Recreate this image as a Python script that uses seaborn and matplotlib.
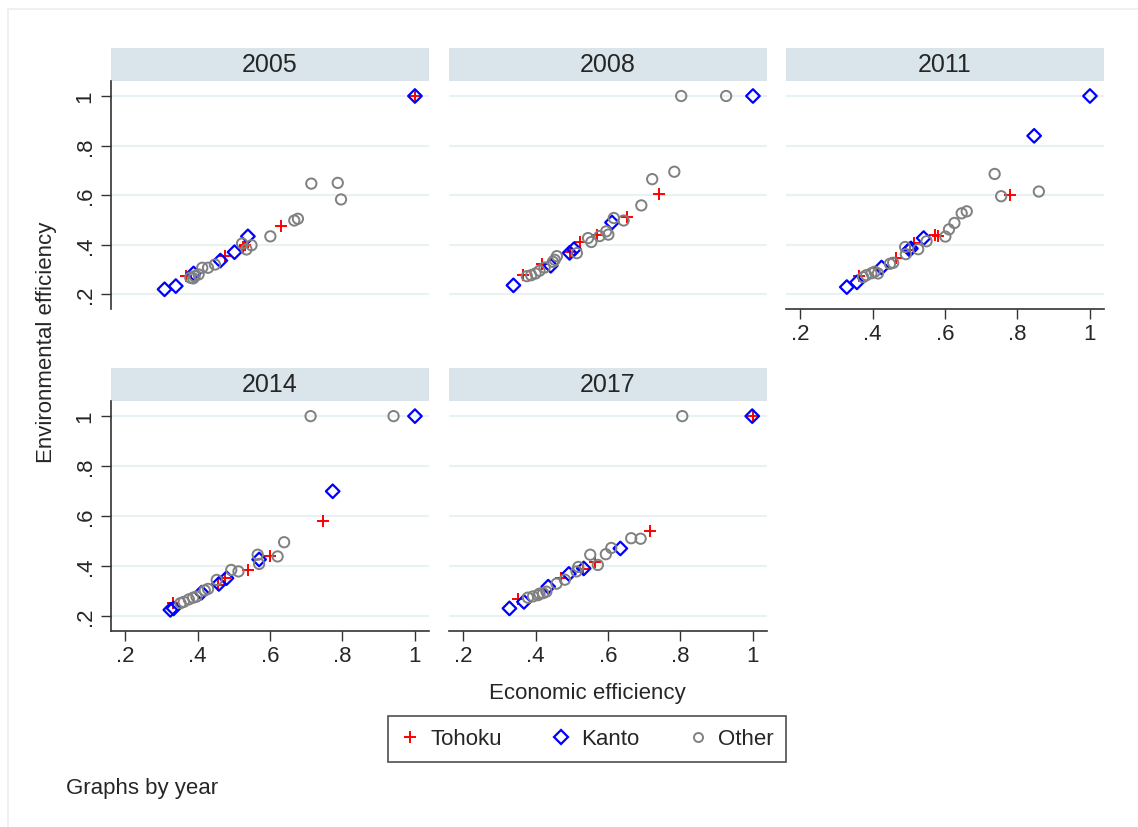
import numpy as np
import pandas as pd
import matplotlib
matplotlib.use("Agg")
import matplotlib.pyplot as plt
from matplotlib.lines import Line2D
from matplotlib.patches import Rectangle
import seaborn as sns

# ---------------- data ----------------
years = [2005, 2008, 2011, 2014, 2017]
groups = ["Tohoku", "Kanto", "Other"]
tick_vals = [0.2, 0.4, 0.6, 0.8, 1.0]
tick_labels = [".2", ".4", ".6", ".8", "1"]

tohoku_econ_2005 = [0.368, 0.475, 0.525, 0.531, 0.631, 1.0]
tohoku_env_2005 = [0.274, 0.354, 0.390, 0.397, 0.476, 1.0]
kanto_econ_2005 = [0.309, 0.340, 0.389, 0.463, 0.502, 0.539, 1.0]
kanto_env_2005 = [0.219, 0.232, 0.283, 0.335, 0.369, 0.433, 1.0]
other_econ_2005 = [0.380, 0.388, 0.392, 0.403, 0.413, 0.429, 0.448, 0.523, 0.535,
                   0.549, 0.601, 0.667, 0.677, 0.714, 0.787, 0.796]
other_env_2005 = [0.266, 0.263, 0.272, 0.279, 0.306, 0.306, 0.319, 0.404, 0.380,
                  0.397, 0.433, 0.497, 0.504, 0.646, 0.649, 0.582]

tohoku_econ_2008 = [0.366, 0.418, 0.496, 0.522, 0.571, 0.652, 0.741]
tohoku_env_2008 = [0.276, 0.321, 0.370, 0.410, 0.440, 0.512, 0.605]
kanto_econ_2008 = [0.339, 0.442, 0.494, 0.506, 0.611, 1.0]
kanto_env_2008 = [0.235, 0.314, 0.366, 0.381, 0.489, 1.0]
other_econ_2008 = [0.376, 0.388, 0.400, 0.411, 0.425, 0.448, 0.453, 0.459, 0.514, 0.545,
                   0.554, 0.577, 0.595, 0.601, 0.616, 0.643, 0.692, 0.722, 0.783, 0.802, 0.926]
other_env_2008 = [0.272, 0.276, 0.283, 0.294, 0.307, 0.330, 0.338, 0.353, 0.365, 0.426,
                  0.410, 0.434, 0.453, 0.440, 0.507, 0.497, 0.558, 0.664, 0.694, 1.0, 1.0]

tohoku_econ_2011 = [0.364, 0.464, 0.503, 0.514, 0.572, 0.581, 0.778]
tohoku_env_2011 = [0.274, 0.347, 0.377, 0.408, 0.437, 0.435, 0.598]
kanto_econ_2011 = [0.329, 0.357, 0.425, 0.502, 0.506, 0.541, 0.846, 1.0]
kanto_env_2011 = [0.228, 0.247, 0.307, 0.380, 0.384, 0.426, 0.839, 1.0]
other_econ_2011 = [0.374, 0.383, 0.397, 0.406, 0.415, 0.448, 0.457, 0.490, 0.492, 0.526,
                   0.549, 0.601, 0.611, 0.626, 0.646, 0.660, 0.737, 0.755, 0.859]
other_env_2011 = [0.268, 0.276, 0.284, 0.290, 0.283, 0.322, 0.326, 0.390, 0.361, 0.381,
                  0.413, 0.432, 0.461, 0.487, 0.526, 0.534, 0.685, 0.595, 0.614]

tohoku_econ_2014 = [0.332, 0.457, 0.477, 0.540, 0.599, 0.745]
tohoku_env_2014 = [0.250, 0.324, 0.351, 0.382, 0.441, 0.581]
kanto_econ_2014 = [0.325, 0.334, 0.411, 0.459, 0.480, 0.570, 0.773, 1.0]
kanto_env_2014 = [0.224, 0.230, 0.293, 0.328, 0.351, 0.426, 0.699, 1.0]
other_econ_2014 = [0.353, 0.362, 0.376, 0.388, 0.397, 0.420, 0.429, 0.453, 0.493, 0.513,
                   0.566, 0.570, 0.621, 0.639, 0.712, 0.941]
other_env_2014 = [0.251, 0.256, 0.266, 0.273, 0.277, 0.302, 0.308, 0.344, 0.384, 0.378,
                  0.445, 0.408, 0.438, 0.495, 1.0, 1.0]

tohoku_econ_2017 = [0.351, 0.470, 0.532, 0.564, 0.715, 1.0]
tohoku_env_2017 = [0.269, 0.351, 0.388, 0.414, 0.539, 1.0]
kanto_econ_2017 = [0.328, 0.368, 0.435, 0.492, 0.533, 0.634, 0.998]
kanto_env_2017 = [0.230, 0.256, 0.317, 0.368, 0.390, 0.470, 1.0]
other_econ_2017 = [0.379, 0.393, 0.407, 0.411, 0.421, 0.430, 0.458, 0.481, 0.513, 0.518,
                   0.551, 0.572, 0.594, 0.609, 0.664, 0.690, 0.805]
other_env_2017 = [0.273, 0.278, 0.283, 0.289, 0.291, 0.297, 0.329, 0.345, 0.378, 0.396,
                  0.445, 0.404, 0.447, 0.472, 0.511, 0.509, 1.0]

# ---------------- build long table ----------------
series = {
    (2005, "Tohoku"): (tohoku_econ_2005, tohoku_env_2005),
    (2005, "Kanto"): (kanto_econ_2005, kanto_env_2005),
    (2005, "Other"): (other_econ_2005, other_env_2005),
    (2008, "Tohoku"): (tohoku_econ_2008, tohoku_env_2008),
    (2008, "Kanto"): (kanto_econ_2008, kanto_env_2008),
    (2008, "Other"): (other_econ_2008, other_env_2008),
    (2011, "Tohoku"): (tohoku_econ_2011, tohoku_env_2011),
    (2011, "Kanto"): (kanto_econ_2011, kanto_env_2011),
    (2011, "Other"): (other_econ_2011, other_env_2011),
    (2014, "Tohoku"): (tohoku_econ_2014, tohoku_env_2014),
    (2014, "Kanto"): (kanto_econ_2014, kanto_env_2014),
    (2014, "Other"): (other_econ_2014, other_env_2014),
    (2017, "Tohoku"): (tohoku_econ_2017, tohoku_env_2017),
    (2017, "Kanto"): (kanto_econ_2017, kanto_env_2017),
    (2017, "Other"): (other_econ_2017, other_env_2017),
}
rows = []
for (yr, g), (xs, ys) in series.items():
    for xv, yv in zip(xs, ys):
        rows.append({"year": yr, "region": g, "econ": xv, "env": yv})
df = pd.DataFrame(rows)

# ---------------- style ----------------
sns.set_style("white")
plt.rcParams["font.family"] = ["Liberation Sans", "DejaVu Sans"]

W, H = 1138, 828
fig = plt.figure(figsize=(W / 100, H / 100), dpi=100)
fig.patch.set_facecolor("white")

# outer faint border lines (top and left)
fig.add_artist(Line2D([8 / W, 1.0], [1 - 10 / H, 1 - 10 / H], color="#eeeeee", lw=1.2))
fig.add_artist(Line2D([8 / W, 8 / W], [0, 1 - 10 / H], color="#eeeeee", lw=1.2))

col_left = [111, 449, 786]
ax_w = 318
rows_px = [(82, 310), (402, 632)]
strip_h = 33
strip_color = "#d9e5eb"
grid_color = "#e8f1f3"

styles = {
    "Tohoku": dict(marker="+", color="#ff0000", s=70, linewidth=1.4),
    "Kanto": dict(marker="D", facecolor="none", edgecolor="#0000ff", s=48, linewidth=1.6),
    "Other": dict(marker="o", facecolor="none", edgecolor="#808080", s=55, linewidth=1.4),
}

xlim = (0.2 - 14 / 361, 1.0 + 14 / 361)
ylim = (0.2 - 15 / 247.5, 1.0 + 15 / 247.5)

tick_fs = 16
for i, yr in enumerate(years):
    r, c = divmod(i, 3)
    top, bot = rows_px[r]
    left = col_left[c]
    ax = fig.add_axes([left / W, 1 - bot / H, ax_w / W, (bot - top) / H])
    ax.set_xlim(*xlim)
    ax.set_ylim(*ylim)
    for tv in tick_vals:
        ax.axhline(tv, color=grid_color, lw=1.5, zorder=0)
    sub = df[df["year"] == yr]
    for g in groups:
        d = sub[sub["region"] == g]
        sns.scatterplot(data=d, x="econ", y="env", ax=ax, legend=False, zorder=3, **styles[g])
    ax.set_xlabel("")
    ax.set_ylabel("")
    for sp in ax.spines.values():
        sp.set_visible(False)
    show_y = (c == 0)
    show_x = (r == 1) or (yr == 2011)
    ax.set_yticks(tick_vals)
    ax.set_xticks(tick_vals)
    if show_y:
        ax.spines["left"].set_visible(True)
        ax.spines["left"].set_color("#333333")
        ax.spines["left"].set_linewidth(1.2)
        ax.set_yticklabels(tick_labels, rotation=90, va="center", fontsize=tick_fs)
        ax.tick_params(axis="y", length=7, width=1, color="#333333", pad=4, left=True)
    else:
        ax.tick_params(axis="y", left=False, labelleft=False)
    if show_x:
        ax.spines["bottom"].set_visible(True)
        ax.spines["bottom"].set_color("#333333")
        ax.spines["bottom"].set_linewidth(1.2)
        ax.set_xticklabels(tick_labels, fontsize=tick_fs)
        ax.tick_params(axis="x", length=7, width=1, color="#333333", pad=3, bottom=True)
    else:
        ax.tick_params(axis="x", bottom=False, labelbottom=False)
    ax.set_facecolor("white")
    # strip header
    sh = strip_h / (bot - top)
    ax.add_patch(Rectangle((0, 1), 1, sh, transform=ax.transAxes, facecolor=strip_color,
                           edgecolor="none", clip_on=False))
    ax.text(0.5, 1 + sh / 2, str(yr), transform=ax.transAxes, ha="center", va="center",
            fontsize=18)

# axis titles
fig.text(587 / W, 1 - 693 / H, "Economic efficiency", ha="center", va="center", fontsize=16)
fig.text(47 / W, 1 - 342 / H, "Environmental efficiency", ha="center", va="center",
         rotation=90, fontsize=16)
fig.text(66 / W, 1 - 789 / H, "Graphs by year", ha="left", va="center", fontsize=16)

# legend
handles = [
    Line2D([], [], marker="+", color="#ff0000", ls="none", markersize=8, markeredgewidth=1.4),
    Line2D([], [], marker="D", markerfacecolor="none", markeredgecolor="#0000ff", ls="none",
           markersize=7, markeredgewidth=1.6),
    Line2D([], [], marker="o", markerfacecolor="none", markeredgecolor="#808080", ls="none",
           markersize=6.5, markeredgewidth=1.4),
]
leg = fig.legend(handles, groups, loc="center", bbox_to_anchor=(587 / W, 1 - 740 / H),
                 ncol=3, fontsize=16, frameon=True, fancybox=False, edgecolor="#222222",
                 handlelength=0.9, handletextpad=0.45, columnspacing=2.2, borderpad=0.55)
leg.get_frame().set_linewidth(1.2)

fig.savefig("out.png", dpi=100, facecolor="white")
